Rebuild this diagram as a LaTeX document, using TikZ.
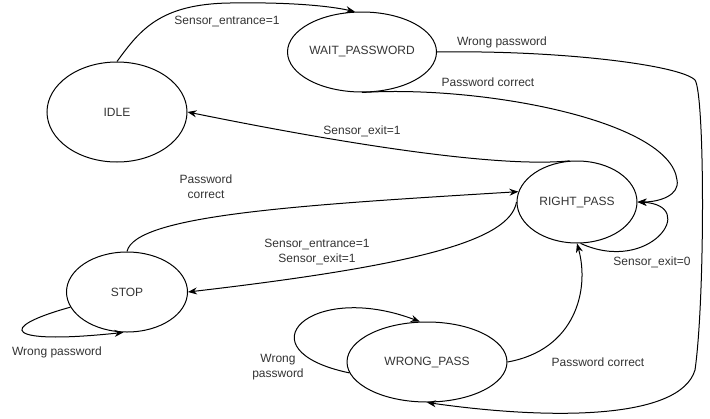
\documentclass[tikz,border=0pt]{standalone}
\usepackage{fontspec}
\setmainfont{Liberation Sans}
\usetikzlibrary{shapes.geometric,arrows.meta}
\tikzset{
  state/.style={ellipse,draw,line width=1pt,inner sep=0pt,text=black!80},
  lbl/.style={text=black!80,align=center,inner sep=0pt},
  trans/.style={line width=1pt,-{Stealth[length=9pt,width=7pt]}}
}
\begin{document}
\begin{tikzpicture}[x=1pt,y=-1pt,font=\fontsize{12}{15}\selectfont]
  \useasboundingbox (0,0) rectangle (710,418);
  \node[state,minimum width=140pt,minimum height=100pt] (idle) at (117,112) {IDLE};
  \node[state,minimum width=130pt,minimum height=80pt] (wait) at (362,52) {WAIT\_PASSWORD};
  \node[state,minimum width=120pt,minimum height=82pt] (right) at (577,202) {RIGHT\_PASS};
  \node[state,minimum width=121pt,minimum height=80pt] (stop) at (127,292) {STOP};
  \node[state,minimum width=160pt,minimum height=80pt] (wrong) at (427,362) {WRONG\_PASS};
  \node[lbl] (l1) at (227,22) {Sensor\_entrance=1};
  \node[lbl] (l2) at (502,42) {Wrong password};
  \node[lbl] (l3) at (488,82) {Password correct};
  \node[lbl] (l4) at (362,131) {Sensor\_exit=1};
  \node[lbl] (l5) at (206,187) {Password\\correct};
  \node[lbl] (l6) at (317,252) {Sensor\_entrance=1\\Sensor\_exit=1};
  \node[lbl] (l7) at (57,352) {Wrong password};
  \node[lbl] (l8) at (278,367) {Wrong\\password};
  \node[lbl] (l9) at (598,362) {Password correct};
  \node[lbl] (l10) at (652,262) {Sensor\_exit=0};
  \begin{scope}[trans]
    \draw (idle.north) .. controls (140,30) and (160,4) .. (230,3)
      .. controls (290,2) and (330,6) .. (wait.100);
    \draw (wait.east) .. controls (560,50) and (680,65) .. (695,80)
      .. controls (705,95) and (705,300) .. (695,370)
      .. controls (680,420) and (550,420) .. (wrong.south);
    \draw (wait.south) .. controls (480,85) and (670,120) .. (677,180)
      .. controls (680,195) and (660,202) .. (right.east);
    \draw (right.100) .. controls (500,168) and (350,145) .. (idle.east);
    \draw (stop.north) .. controls (135,215) and (300,205) .. (right.170);
    \draw (right.west) .. controls (510,240) and (420,265) .. (stop.east);
    \draw (stop.195) .. controls (-5,328) and (5,345) .. (stop.265);
    \draw (wrong.188) .. controls (240,350) and (310,280) .. (wrong.100);
    \draw (wrong.east) .. controls (575,350) and (590,290) .. (right.south);
    \draw (right.-85) .. controls (650,275) and (700,205) .. (right.east);
  \end{scope}
\end{tikzpicture}
\end{document}
